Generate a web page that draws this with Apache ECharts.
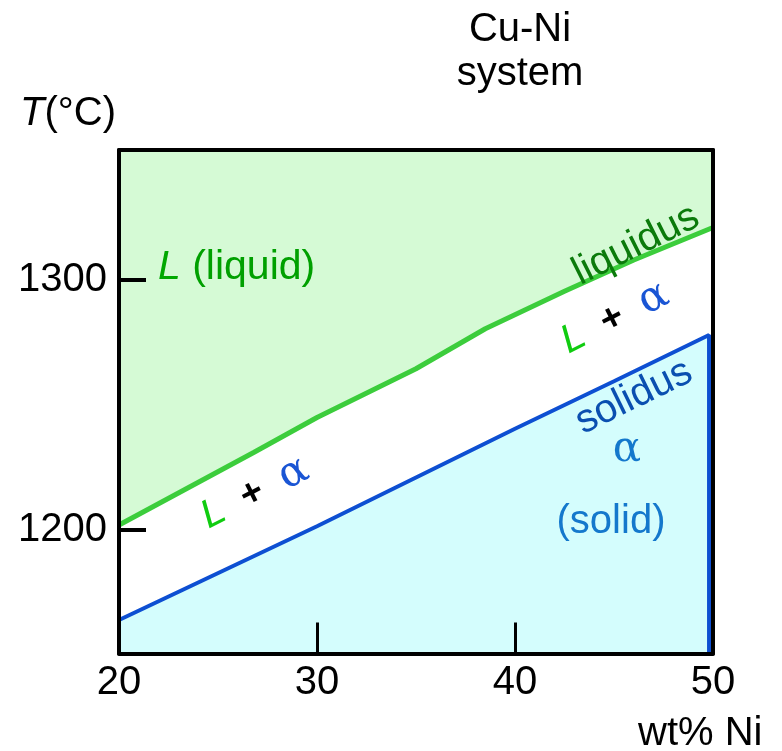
<!DOCTYPE html>
<html>
<head>
<meta charset="utf-8">
<script src="https://cdn.jsdelivr.net/npm/echarts@6/dist/echarts.min.js"></script>
<style>html,body{margin:0;padding:0;background:#fff;}#c{width:782px;height:751px;}</style>
</head>
<body>
<div id="c"></div>
<script>
// ---- data ----
var liquidusX = [20, 26.8, 30, 35, 38.5, 42.5, 46, 50];
var liquidusT = [1202, 1231, 1245, 1264.5, 1280.5, 1295.5, 1308, 1321];
var solidusX = [20, 30, 35, 40, 45, 49.8, 49.8];
var solidusT = [1164, 1201.5, 1221, 1240.5, 1259.5, 1278, 1150.6];
var xTicks = [20, 30, 40, 50];
var xInnerTicks = [30, 40];
var yTicks = [1200, 1300];
var xMin = 20, xMax = 50, yMin = 1150.6, yMax = 1352;

var FONT = '"Liberation Sans", Arial, sans-serif';
var SERIF = '"DejaVu Serif", "Liberation Serif", serif';

function zip(a, b) { return a.map(function (v, i) { return [v, b[i]]; }); }

var chart = echarts.init(document.getElementById('c'), null, {renderer: 'canvas'});

var axisLineStyle = {show: true, lineStyle: {color: '#000', width: 4}};
var alphaStyle = {fontFamily: SERIF, fontSize: 42, fontWeight: 'normal', fontStyle: 'normal'};
var option = {
  animation: false,
  backgroundColor: '#fff',
  grid: {left: 119, right: 69, top: 150, bottom: 97.5},
  xAxis: [{
    type: 'value', min: xMin, max: xMax, interval: 10, position: 'bottom', z: 10,
    axisLine: axisLineStyle,
    axisTick: {show: true, inside: true, length: 31, customValues: xInnerTicks, lineStyle: {color: '#000', width: 3}},
    axisLabel: {show: true, margin: 9, color: '#000', fontSize: 40, fontFamily: FONT, customValues: xTicks,
      formatter: function (v) { return String(v); }},
    splitLine: {show: false}
  }, {
    type: 'value', min: xMin, max: xMax, position: 'top', z: 10,
    axisLine: axisLineStyle, axisTick: {show: false}, axisLabel: {show: false}, splitLine: {show: false}
  }],
  yAxis: [{
    type: 'value', min: yMin, max: yMax, position: 'left', z: 10,
    axisLine: axisLineStyle,
    axisTick: {show: true, inside: true, length: 27, customValues: yTicks, lineStyle: {color: '#000', width: 4}},
    axisLabel: {show: true, margin: 12, color: '#000', fontSize: 40, fontFamily: FONT, customValues: yTicks,
      formatter: function (v) { return String(v); }},
    splitLine: {show: false}
  }, {
    type: 'value', min: yMin, max: yMax, position: 'right', z: 10,
    axisLine: axisLineStyle, axisTick: {show: false}, axisLabel: {show: false}, splitLine: {show: false}
  }],
  series: [{
    name: 'liquidus', type: 'line', data: zip(liquidusX, liquidusT), symbol: 'none', z: 3,
    lineStyle: {color: '#3ccd3c', width: 5},
    areaStyle: {origin: 'end', color: '#d5fad5', opacity: 1}
  }, {
    name: 'solidus', type: 'line', data: zip(solidusX, solidusT), symbol: 'none', z: 3,
    lineStyle: {color: '#0d4fd2', width: 4},
    areaStyle: {origin: 'start', color: '#d4fdfd', opacity: 1}
  }],
  graphic: [
    {type: 'text', x: 520, y: 30, style: {text: 'Cu-Ni', font: '40px ' + FONT, fill: '#000', textAlign: 'center', textVerticalAlign: 'middle'}},
    {type: 'text', x: 520, y: 74, style: {text: 'system', font: '40px ' + FONT, fill: '#000', textAlign: 'center', textVerticalAlign: 'middle'}},
    {type: 'text', x: 20, y: 114, style: {
      text: '{t|T}{n|(°C)}', textAlign: 'left', textVerticalAlign: 'middle',
      rich: {t: {font: 'italic 40px ' + FONT, fill: '#000'}, n: {font: '40px ' + FONT, fill: '#000'}}}},
    {type: 'text', x: 638, y: 734, style: {text: 'wt% Ni', font: '40px ' + FONT, fill: '#000', textAlign: 'left', textVerticalAlign: 'middle'}},
    {type: 'text', x: 158, y: 268, z: 20, style: {
      text: '{l|L}{p| (liquid)}', textAlign: 'left', textVerticalAlign: 'middle',
      rich: {l: {font: 'italic 41px ' + FONT, fill: '#00a800'}, p: {font: '41px ' + FONT, fill: '#00a000'}}}},
    {type: 'text', x: 636, y: 245, z: 20, rotation: 26.6 * Math.PI / 180, style: {
      text: 'liquidus', font: '40px ' + FONT, fill: '#0b7a0b', textAlign: 'center', textVerticalAlign: 'middle'}},
    {type: 'text', x: 615, y: 318, z: 20, rotation: 26.6 * Math.PI / 180, style: {
      text: '{l|L}{p|  +  }{a|α}', textAlign: 'center', textVerticalAlign: 'middle',
      rich: {l: {font: 'italic 40px ' + FONT, fill: '#10cc10'}, p: {font: 'bold 38px ' + FONT, fill: '#000'},
        a: Object.assign({fill: '#1a55d4'}, alphaStyle)}}},
    {type: 'text', x: 255, y: 493, z: 20, rotation: 26.6 * Math.PI / 180, style: {
      text: '{l|L}{p|  +  }{a|α}', textAlign: 'center', textVerticalAlign: 'middle',
      rich: {l: {font: 'italic 40px ' + FONT, fill: '#10cc10'}, p: {font: 'bold 38px ' + FONT, fill: '#000'},
        a: Object.assign({fill: '#1a55d4'}, alphaStyle)}}},
    {type: 'text', x: 634, y: 397, z: 20, rotation: 26 * Math.PI / 180, style: {
      text: 'solidus', font: '40px ' + FONT, fill: '#0a4fb0', textAlign: 'center', textVerticalAlign: 'middle'}},
    {type: 'text', x: 627, y: 450, z: 20, style: Object.assign({
      text: 'α', fill: '#1478cc', textAlign: 'center', textVerticalAlign: 'middle'}, alphaStyle)},
    {type: 'text', x: 611, y: 522, z: 20, style: {
      text: '(solid)', font: '40px ' + FONT, fill: '#1478cc', textAlign: 'center', textVerticalAlign: 'middle'}}
  ]
};
chart.setOption(option);
</script>
</body>
</html>
